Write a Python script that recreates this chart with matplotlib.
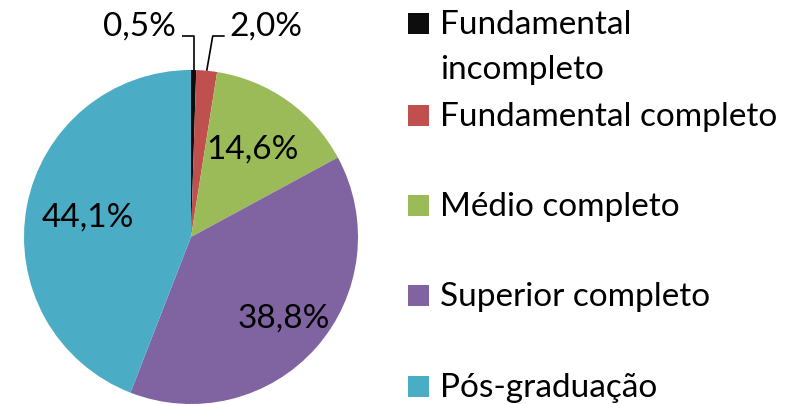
import numpy as np
import matplotlib
matplotlib.use("Agg")
import matplotlib.pyplot as plt
from matplotlib.patches import Rectangle

categories = [
    "Fundamental\nincompleto",
    "Fundamental completo",
    "Médio completo",
    "Superior completo",
    "Pós-graduação",
]
shares = [0.5, 2.0, 14.6, 38.8, 44.1]
pct_labels = ["0,5%", "2,0%", "14,6%", "38,8%", "44,1%"]
colors = ["#0d0d0d", "#c0504d", "#9bbb59", "#8064a2", "#4bacc6"]

W, H = 793, 404
plt.rcParams["font.family"] = ["Lato", "DejaVu Sans"]
FS = 24

fig = plt.figure(figsize=(W / 100, H / 100), dpi=100)
ax = fig.add_axes([0, 0, 1, 1])

cx, cy, r = 191, H - 237, 167
wedges, _ = ax.pie(shares, colors=colors, startangle=90, counterclock=False,
                   center=(cx, cy), radius=r, frame=True,
                   wedgeprops=dict(linewidth=0))
ax.set_xlim(0, W)
ax.set_ylim(0, H)
ax.set_aspect("equal")
ax.axis("off")

# inside labels (radial fraction per slice)
rfrac = [None, None, 0.64, 0.74, 0.63]
for w, lab, f in zip(wedges, pct_labels, rfrac):
    if f is None:
        continue
    mid = np.deg2rad((w.theta1 + w.theta2) / 2)
    ax.text(cx + f * r * np.cos(mid), cy + f * r * np.sin(mid), lab,
            fontsize=FS, ha="center", va="center")

# small slices: labels above with leader lines
top_y = H - 36
for i, (dx_text, side) in zip([0, 1], [(-52, "left"), (75, "right")]):
    w = wedges[i]
    mid = np.deg2rad((w.theta1 + w.theta2) / 2)
    ex, ey = cx + r * np.cos(mid), cy + r * np.sin(mid)
    if side == "left":
        kx = ex
        hx = kx - 12
    else:
        kx = ex + 6
        hx = kx + 12
    ax.plot([ex, kx, hx], [ey, top_y, top_y], color="black", lw=1.2,
            solid_capstyle="butt")
    ax.text(cx + dx_text, H - 27, pct_labels[i], fontsize=FS,
            ha="center", va="center")

# legend (marker aligned with first text line)
mark_y = [23, 115, 205.5, 295.5, 386]
for lab, col, my in zip(categories, colors, mark_y):
    ax.add_patch(Rectangle((408, H - my - 10.5), 21, 21, color=col, lw=0))
    for k, line in enumerate(lab.split("\n")):
        ax.text(440, H - my - 11 - 45 * k, line, fontsize=FS,
                ha="left", va="baseline")

fig.savefig("out.png", dpi=100)
